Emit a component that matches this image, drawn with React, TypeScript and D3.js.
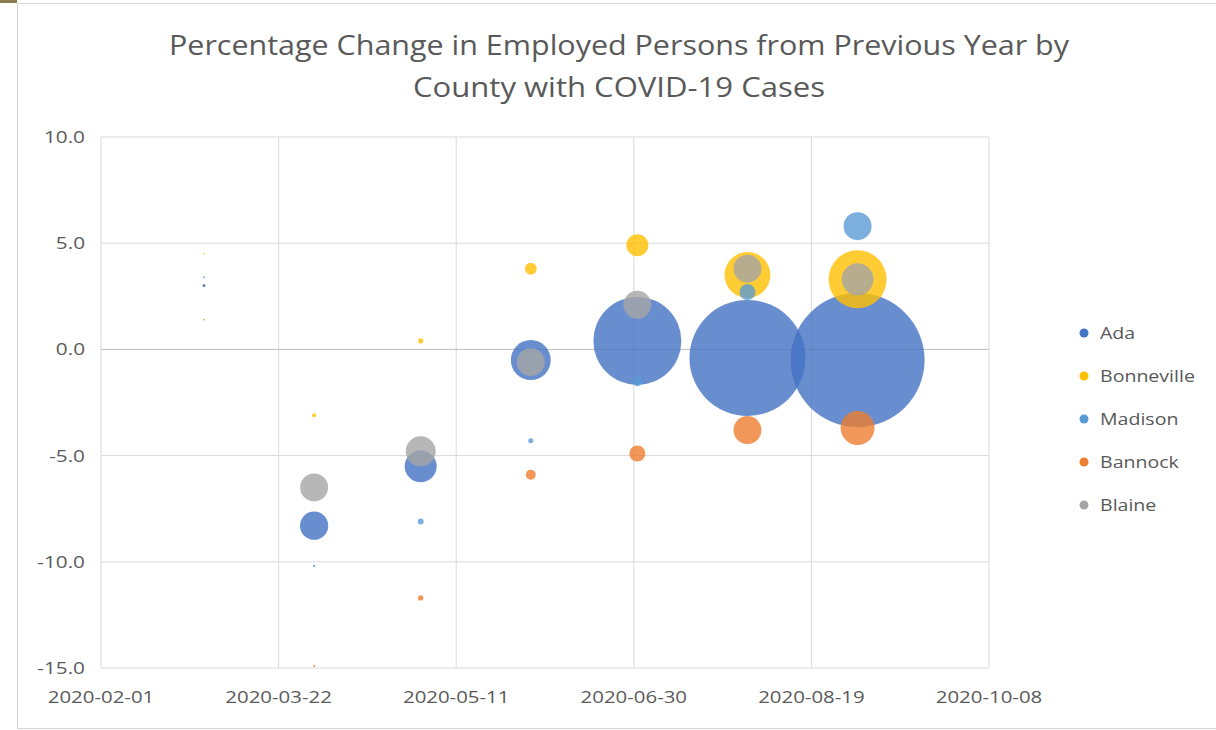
import React, { useEffect, useRef } from "react";
import * as d3 from "d3";

// month-start dates for each observation
const months = ["2020-03-01", "2020-04-01", "2020-05-01", "2020-06-01", "2020-07-01", "2020-08-01", "2020-09-01"];

const counties = ["Ada", "Bonneville", "Madison", "Bannock", "Blaine"];
const colors = ["#4472C4", "#FFC000", "#5B9BD5", "#ED7D31", "#A5A5A5"];

// % change in employed persons vs previous year
const adaChange = [3.0, -8.3, -5.5, -0.5, 0.4, -0.4, -0.5];
const bonnevilleChange = [4.5, -3.1, 0.4, 3.8, 4.9, 3.5, 3.3];
const madisonChange = [3.4, -10.2, -8.1, -4.3, -1.5, 2.7, 5.8];
const bannockChange = [1.4, -14.9, -11.7, -5.9, -4.9, -3.8, -3.7];
const blaineChange = [3.0, -6.5, -4.8, -0.6, 2.1, 3.8, 3.3];

// COVID-19 cases (bubble size)
const adaCases = [5, 560, 720, 1120, 5430, 9440, 12600];
const bonnevilleCases = [2, 12, 18, 100, 340, 1480, 2360];
const madisonCases = [3, 4, 25, 18, 70, 180, 550];
const bannockCases = [2, 3, 20, 70, 180, 550, 810];
const blaineCases = [6, 550, 630, 550, 550, 550, 720];

const xTickLabels = ["2020-02-01", "2020-03-22", "2020-05-11", "2020-06-30", "2020-08-19", "2020-10-08"];
const yTicks = [-15, -10, -5, 0, 5, 10];

const titleLines = [
  "Percentage Change in Employed Persons from Previous Year by",
  "County with COVID-19 Cases",
];

// the source screenshot is a little stretched sideways, widen text to match
function widen(sel: d3.Selection<any, any, any, any>, k: number) {
  sel.each(function () {
    const node = this as SVGTextElement;
    const w = node.getComputedTextLength();
    d3.select(node).attr("textLength", w * k).attr("lengthAdjust", "spacingAndGlyphs");
  });
}

export default function App() {
  const svgRef = useRef<SVGSVGElement>(null);

  useEffect(() => {
    const svg = d3.select(svgRef.current);
    svg.selectAll("*").remove();

    const parse = d3.utcParse("%Y-%m-%d");
    const changes = [adaChange, bonnevilleChange, madisonChange, bannockChange, blaineChange];
    const cases = [adaCases, bonnevilleCases, madisonCases, bannockCases, blaineCases];

    const xScale = d3.scaleUtc()
      .domain([parse(xTickLabels[0])!, parse(xTickLabels[xTickLabels.length - 1])!])
      .range([101, 989]);
    const yScale = d3.scaleLinear().domain([-15, 10]).range([668, 137]);
    const rScale = d3.scaleSqrt().domain([0, d3.max(cases.flat())!]).range([0, 67]);

    // chart frame
    svg.append("rect").attr("x", 0).attr("y", 0).attr("width", 17).attr("height", 3).attr("fill", "#8b7d4f");
    svg.append("rect")
      .attr("x", 17.5).attr("y", 3.5).attr("width", 1210).attr("height", 725)
      .attr("fill", "#fff").attr("stroke", "#d4d4d4");

    // title
    svg.append("g").selectAll("text")
      .data(titleLines)
      .join("text")
      .attr("x", 619)
      .attr("y", (_, i) => 55 + i * 42)
      .attr("text-anchor", "middle")
      .attr("font-size", 28)
      .attr("fill", "#595959")
      .attr("textLength", (_, i) => [900, 412][i])
      .attr("lengthAdjust", "spacingAndGlyphs")
      .text(d => d);

    // gridlines
    const xTickDates = xTickLabels.map(d => parse(d)!);
    svg.append("g").selectAll("line")
      .data(xTickDates)
      .join("line")
      .attr("x1", d => xScale(d)).attr("x2", d => xScale(d))
      .attr("y1", yScale(10)).attr("y2", yScale(-15))
      .attr("stroke", "#d9d9d9");
    svg.append("g").selectAll("line")
      .data(yTicks)
      .join("line")
      .attr("x1", xScale.range()[0]).attr("x2", xScale.range()[1])
      .attr("y1", d => yScale(d)).attr("y2", d => yScale(d))
      .attr("stroke", d => (d === 0 ? "#bfbfbf" : "#d9d9d9"));

    // axis labels
    const yLabels = svg.append("g").selectAll("text")
      .data(yTicks)
      .join("text")
      .attr("x", 85)
      .attr("y", d => yScale(d))
      .attr("dy", "0.35em")
      .attr("text-anchor", "end")
      .attr("font-size", 17)
      .attr("fill", "#595959")
      .text(d => d.toFixed(1));
    widen(yLabels, 1.22);

    const xLabels = svg.append("g").selectAll("text")
      .data(xTickDates)
      .join("text")
      .attr("x", d => xScale(d))
      .attr("y", 703)
      .attr("text-anchor", "middle")
      .attr("font-size", 17)
      .attr("fill", "#595959")
      .text((_, i) => xTickLabels[i]);
    widen(xLabels, 1.2);

    // bubbles, biggest first so small ones stay visible
    const points = counties.flatMap((c, si) =>
      months.map((m, i) => ({ si, date: parse(m)!, v: changes[si][i], n: cases[si][i] }))
    ).sort((a, b) => b.n - a.n);

    svg.append("g").selectAll("circle")
      .data(points)
      .join("circle")
      .attr("cx", d => xScale(d.date))
      .attr("cy", d => yScale(d.v))
      .attr("r", d => rScale(d.n))
      .attr("fill", d => colors[d.si])
      .attr("fill-opacity", 0.8);

    // legend
    const legend = svg.append("g").selectAll("g")
      .data(counties)
      .join("g")
      .attr("transform", (_, i) => `translate(1084, ${333 + i * 43})`);
    legend.append("circle").attr("r", 4.5).attr("fill", (_, i) => colors[i]);
    const legendText = legend.append("text")
      .attr("x", 16)
      .attr("dy", "0.35em")
      .attr("font-size", 17)
      .attr("fill", "#595959")
      .text(d => d);
    widen(legendText, 1.15);
  }, []);

  return (
    <svg
      ref={svgRef}
      width={1216}
      height={730}
      style={{ position: "absolute", left: 0, top: 0, fontFamily: "'Open Sans', sans-serif" }}
    />
  );
}
